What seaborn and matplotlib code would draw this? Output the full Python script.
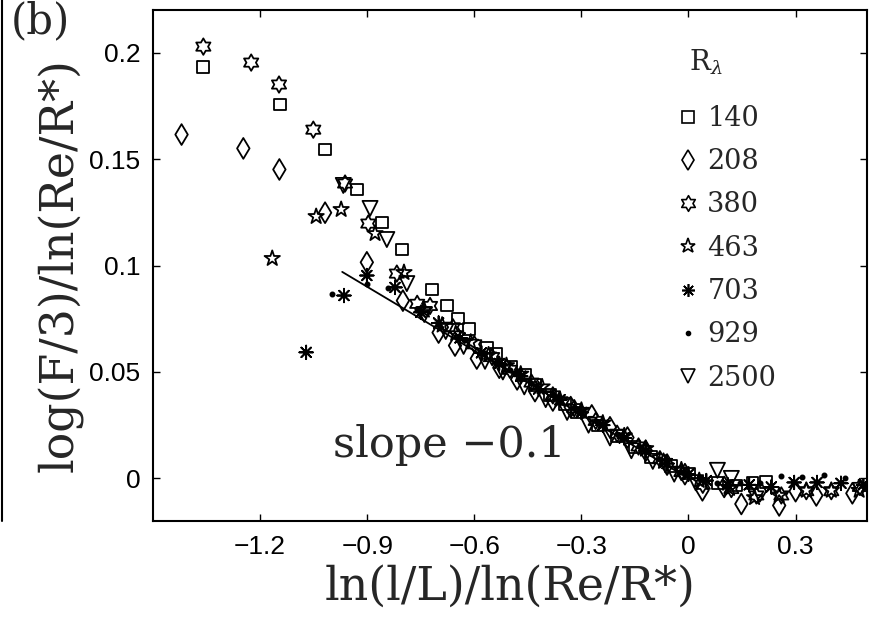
import numpy as np
import matplotlib
matplotlib.use("Agg")
import matplotlib.pyplot as plt
from matplotlib.lines import Line2D
from matplotlib.path import Path
import seaborn as sns

# ---------------- data ----------------
x_140 = [-1.359, -1.144, -1.018, -0.929, -0.858, -0.803, -0.719, -0.677, -0.646, -0.615,
         -0.565, -0.540, -0.498, -0.459, -0.430, -0.389, -0.347, -0.313, -0.254, -0.201,
         -0.151, -0.104, -0.050, 0.003, 0.081, 0.134, 0.179, 0.218]
y_140 = [0.1934, 0.1756, 0.1545, 0.1357, 0.1202, 0.1075, 0.0887, 0.0812, 0.0751, 0.0700,
         0.0615, 0.0587, 0.0526, 0.0484, 0.0437, 0.0390, 0.0350, 0.0310, 0.0249, 0.0200,
         0.0146, 0.0099, 0.0060, 0.0023, -0.0023, -0.0033, -0.0023, -0.0017]

x_208 = [-1.420, -1.247, -1.146, -1.018, -0.901, -0.800, -0.700, -0.654, -0.593, -0.530,
         -0.480, -0.430, -0.380, -0.330, -0.271, -0.220, -0.171, -0.120, -0.060, -0.010,
         0.039, 0.100, 0.148, 0.200, 0.254, 0.300, 0.358, 0.459]
y_208 = [0.1615, 0.1550, 0.1451, 0.1248, 0.1015, 0.0835, 0.0685, 0.0624, 0.0563, 0.0520,
         0.0465, 0.0410, 0.0366, 0.0335, 0.0296, 0.0240, 0.0192, 0.0130, 0.0065, 0.0020,
         -0.0056, -0.0040, -0.0120, -0.0060, -0.0127, -0.0060, -0.0080, -0.0070]

x_380 = [-1.359, -1.225, -1.147, -1.051, -0.962, -0.897, -0.817, -0.760, -0.724, -0.660,
         -0.600, -0.550, -0.500, -0.440, -0.380, -0.320, -0.260, -0.200, -0.140, -0.080,
         -0.020, 0.040, 0.120, 0.190, 0.260, 0.330, 0.400, 0.480]
y_380 = [0.2028, 0.1953, 0.1850, 0.1638, 0.1385, 0.1197, 0.0962, 0.0820, 0.0810, 0.0710,
         0.0630, 0.0570, 0.0510, 0.0450, 0.0390, 0.0330, 0.0270, 0.0210, 0.0150, 0.0090,
         0.0030, -0.0030, -0.0050, -0.0080, -0.0080, -0.0060, -0.0060, -0.0040]

x_463 = [-1.166, -1.043, -0.973, -0.878, -0.797, -0.740, -0.690, -0.652, -0.610, -0.560,
         -0.510, -0.470, -0.410, -0.360, -0.300, -0.240, -0.180, -0.120, -0.070, -0.020,
         0.030, 0.115, 0.185, 0.254, 0.330, 0.400, 0.478]
y_463 = [0.1033, 0.1230, 0.1263, 0.1150, 0.0967, 0.0790, 0.0720, 0.0680, 0.0640, 0.0580,
         0.0530, 0.0490, 0.0430, 0.0370, 0.0320, 0.0260, 0.0200, 0.0140, 0.0080, 0.0040,
         -0.0010, -0.0047, -0.0090, -0.0080, -0.0056, -0.0056, -0.0056]

x_703 = [-1.071, -0.965, -0.901, -0.822, -0.750, -0.700, -0.640, -0.580, -0.530, -0.470,
         -0.420, -0.360, -0.300, -0.240, -0.180, -0.120, -0.060, 0.000, 0.050, 0.110,
         0.170, 0.232, 0.296, 0.360, 0.427, 0.490]
y_703 = [0.0592, 0.0859, 0.0953, 0.0897, 0.0780, 0.0730, 0.0660, 0.0590, 0.0540, 0.0480,
         0.0420, 0.0370, 0.0310, 0.0250, 0.0190, 0.0130, 0.0070, 0.0020, -0.0010, -0.0030,
         -0.0030, -0.0040, -0.0019, -0.0019, -0.0023, -0.0030]

x_929 = [-0.999, -0.900, -0.841, -0.760, -0.700, -0.630, -0.570, -0.500, -0.440, -0.380,
         -0.320, -0.260, -0.200, -0.140, -0.080, -0.020, 0.030, 0.081, 0.143, 0.200,
         0.260, 0.319, 0.380, 0.439]
y_929 = [0.0864, 0.0915, 0.0896, 0.0790, 0.0720, 0.0650, 0.0590, 0.0510, 0.0450, 0.0390,
         0.0330, 0.0270, 0.0210, 0.0150, 0.0090, 0.0030, 0.0000, -0.0020, -0.0020, -0.0020,
         0.0010, 0.0005, 0.0014, 0.0000]

x_2500 = [-0.967, -0.892, -0.845, -0.789, -0.740, -0.680, -0.630, -0.570, -0.520, -0.460,
          -0.400, -0.340, -0.280, -0.220, -0.160, -0.100, -0.040, 0.020, 0.081, 0.120]
y_2500 = [0.1376, 0.1268, 0.1122, 0.0915, 0.0770, 0.0690, 0.0620, 0.0550, 0.0500, 0.0430,
          0.0370, 0.0310, 0.0250, 0.0190, 0.0130, 0.0080, 0.0020, -0.0020, 0.0038, 0.0000]

slope_x = [-0.97, 0.0]
slope_y = [0.097, 0.0]

series_labels = ["140", "208", "380", "463", "703", "929", "2500"]
x_ticks = [-1.2, -0.9, -0.6, -0.3, 0.0, 0.3]
y_ticks = [0.0, 0.05, 0.1, 0.15, 0.2]
x_tick_labels = ["\u22121.2", "\u22120.9", "\u22120.6", "\u22120.3", "0", "0.3"]
y_tick_labels = ["0", "0.05", "0.1", "0.15", "0.2"]

# ---------------- style ----------------
sns.set_style("ticks")
plt.rcParams["font.family"] = ["Liberation Sans", "DejaVu Sans"]
plt.rcParams["mathtext.fontset"] = "dejavuserif"
SERIF = ["DejaVu Serif"]

# hexagram marker (outline of two triangles)
ang = np.deg2rad(90 + 30 * np.arange(12))
rad = np.where(np.arange(12) % 2 == 0, 1.0, 1.0 / np.sqrt(3))
hverts = np.column_stack([rad * np.cos(ang), rad * np.sin(ang)])
hverts = np.vstack([hverts, hverts[:1]])
hexagram = Path(hverts, closed=True)

styles = [
    dict(marker="s", s=72, face="none"),
    dict(marker="d", s=112, face="none"),
    dict(marker=hexagram, s=140, face="none"),
    dict(marker="*", s=135, face="none"),
    dict(marker=(8, 2, 0), s=95, face="none"),
    dict(marker="o", s=9, face="k"),
    dict(marker="v", s=118, face="none"),
]
xs_all = [x_140, x_208, x_380, x_463, x_703, x_929, x_2500]
ys_all = [y_140, y_208, y_380, y_463, y_703, y_929, y_2500]

fig = plt.figure(figsize=(8.7, 6.18), dpi=100)
ax = fig.add_axes([153 / 870, 1 - 521 / 618, (867 - 153) / 870, (521 - 10) / 618])

for xs, ys, st in zip(xs_all, ys_all, styles):
    sns.scatterplot(x=xs, y=ys, ax=ax, marker=st["marker"], s=st["s"], legend=False)
    coll = ax.collections[-1]
    coll.set_facecolor(st["face"])
    coll.set_edgecolor("k")
    coll.set_linewidth(1.3)

sns.lineplot(x=slope_x, y=slope_y, ax=ax, color="k", lw=1.3, legend=False)

ax.set_xlim(-1.5, 0.5)
ax.set_ylim(-0.02, 0.22)
ax.set_xticks(x_ticks)
ax.set_xticklabels(x_tick_labels)
ax.set_yticks(y_ticks)
ax.set_yticklabels(y_tick_labels)
ax.tick_params(direction="in", top=True, right=True, length=5, width=1.0,
               labelsize=19, colors="k")
ax.tick_params(axis="x", pad=10)
ax.tick_params(axis="y", pad=9)
for sp in ax.spines.values():
    sp.set_linewidth(1.5)
    sp.set_color("k")

ax.set_xlabel("ln(l/L)/ln(Re/R*)", fontsize=33, family=SERIF, labelpad=4)
ax.set_ylabel("log(F/3)/ln(Re/R*)", fontsize=33, family=SERIF, labelpad=4)

ax.text(-0.995, 0.0155, "slope \u22120.1", fontsize=31, family=SERIF, ha="left", va="center")

# legend
handles = []
for st in styles:
    handles.append(Line2D([], [], ls="none", marker=st["marker"],
                          ms=np.sqrt(st["s"]) * 0.95, mfc=st["face"], mec="k", mew=1.2))
leg = ax.legend(handles, series_labels, loc="upper left",
                bbox_to_anchor=((683 - 153) / 714, (521 - 105) / 511), frameon=False,
                borderpad=0, borderaxespad=0,
                handlelength=0.4, handletextpad=0.5, labelspacing=0.6,
                prop=dict(family=SERIF, size=19.5))
ax.text((689 - 153) / 714, (521 - 62) / 511, r"R$_\lambda$", transform=ax.transAxes,
        fontsize=20, family=SERIF, ha="left", va="center")

fig.text(0.012, 1 - 21 / 618, "(b)", fontsize=30, family=SERIF, ha="left", va="center")
fig.add_artist(Line2D([0.0025, 0.0025], [1 - 521 / 618, 1.0], transform=fig.transFigure,
                      color="k", lw=1.5))

fig.savefig("out.png", dpi=100)
